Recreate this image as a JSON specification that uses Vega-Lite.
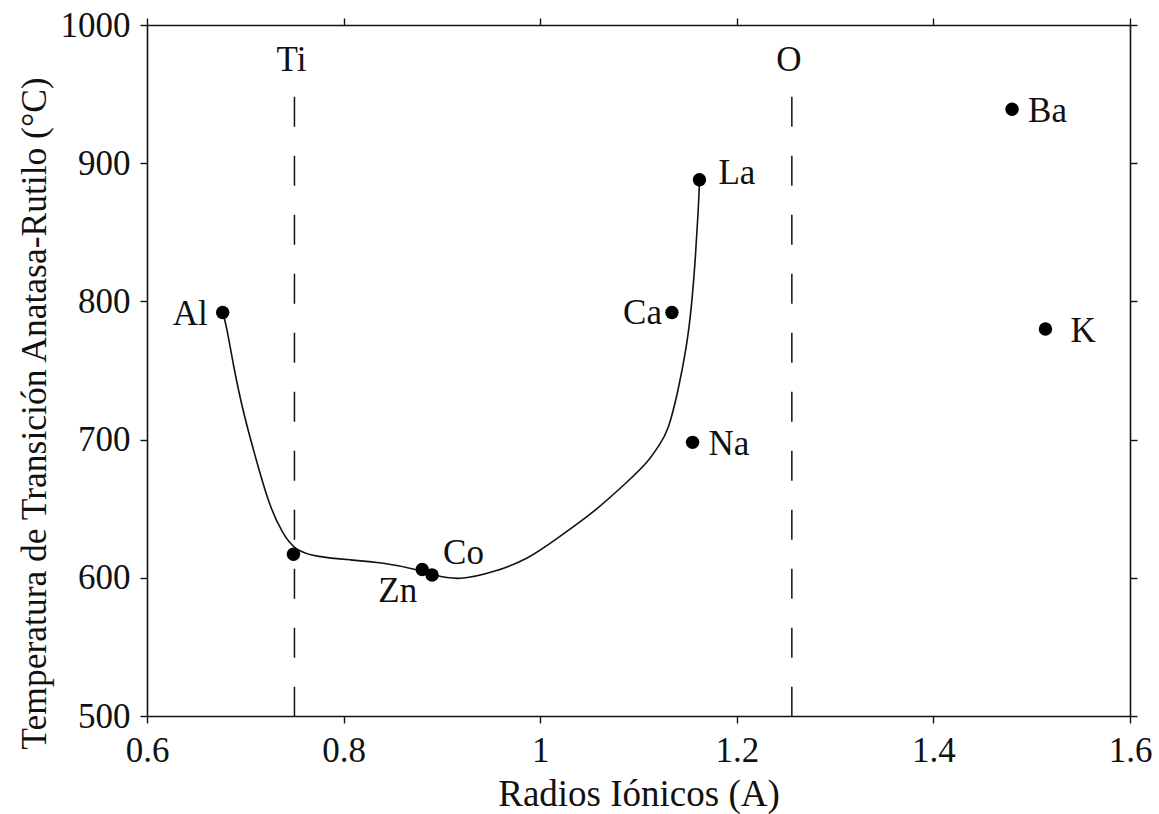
{
  "$schema": "https://vega.github.io/schema/vega-lite/v6.json",
  "width": 983,
  "height": 691,
  "autosize": {"type": "none"},
  "padding": {"left": 147, "top": 25, "right": 29, "bottom": 98},
  "background": "white",
  "config": {
    "font": "Liberation Serif",
    "view": {"stroke": null},
    "axis": {"grid": false, "domainColor": "#111", "tickColor": "#111", "labelColor": "#111", "titleColor": "#111", "labelFont": "Liberation Serif", "titleFont": "Liberation Serif", "labelFontSize": 35, "titleFontSize": 35.5, "titleFontWeight": "normal", "domainWidth": 1.6, "tickWidth": 1.4, "tickSize": 7}
  },
  "datasets": {
    "curve": [
      {"r": 0.677, "t": 792}, {"r": 0.681, "t": 782}, {"r": 0.688, "t": 753}, {"r": 0.698, "t": 719},
      {"r": 0.712, "t": 683}, {"r": 0.725, "t": 651}, {"r": 0.738, "t": 632}, {"r": 0.750, "t": 620},
      {"r": 0.773, "t": 615}, {"r": 0.807, "t": 613}, {"r": 0.840, "t": 611}, {"r": 0.875, "t": 606},
      {"r": 0.891, "t": 602}, {"r": 0.918, "t": 598}, {"r": 0.952, "t": 604}, {"r": 0.987, "t": 613},
      {"r": 1.020, "t": 630}, {"r": 1.054, "t": 647}, {"r": 1.088, "t": 669}, {"r": 1.109, "t": 683},
      {"r": 1.122, "t": 697}, {"r": 1.130, "t": 706}, {"r": 1.140, "t": 734}, {"r": 1.149, "t": 767},
      {"r": 1.154, "t": 796}, {"r": 1.158, "t": 832}, {"r": 1.161, "t": 868}, {"r": 1.162, "t": 886}
    ],
    "ions": [
      {"ion": "Al", "r": 0.677, "t": 792},
      {"ion": "Ti", "r": 0.749, "t": 617},
      {"ion": "Zn", "r": 0.880, "t": 606},
      {"ion": "Co", "r": 0.890, "t": 602},
      {"ion": "Ca", "r": 1.134, "t": 792},
      {"ion": "La", "r": 1.162, "t": 888},
      {"ion": "Na", "r": 1.155, "t": 698},
      {"ion": "Ba", "r": 1.480, "t": 939},
      {"ion": "K", "r": 1.514, "t": 780}
    ],
    "refs": [
      {"ion": "Ti", "r": 0.75, "top": 948, "bottom": 500},
      {"ion": "O", "r": 1.256, "top": 948, "bottom": 500}
    ]
  },
  "resolve": {"axis": {"x": "independent", "y": "independent"}},
  "layer": [
    {
      "data": {"name": "curve"},
      "mark": {"type": "line", "interpolate": "basis", "color": "#111", "strokeWidth": 1.6},
      "encoding": {
        "x": {"field": "r", "type": "quantitative", "scale": {"domain": [0.6, 1.6], "nice": false, "zero": false},
              "axis": {"orient": "bottom", "values": [0.6, 0.8, 1, 1.2, 1.4, 1.6], "format": "~g", "labelPadding": 10, "title": "Radios Iónicos (A)", "titlePadding": 8, "titleFontSize": 37, "labelFlush": false}},
        "y": {"field": "t", "type": "quantitative", "scale": {"domain": [500, 1000], "nice": false, "zero": false},
              "axis": {"orient": "left", "values": [500, 600, 700, 800, 900, 1000], "format": "d", "labelPadding": 10, "title": "Temperatura de Transición Anatasa-Rutilo (°C)", "titlePadding": 8, "titleY": 388, "labelFlush": false}}
      }
    },
    {
      "data": {"name": "ions"},
      "mark": {"type": "circle", "color": "#000", "opacity": 1, "size": 180},
      "encoding": {
        "x": {"field": "r", "type": "quantitative", "axis": {"orient": "top", "values": [0.6, 0.8, 1, 1.2, 1.4, 1.6], "labels": false, "title": null}},
        "y": {"field": "t", "type": "quantitative", "axis": {"orient": "right", "values": [500, 600, 700, 800, 900, 1000], "labels": false, "title": null}}
      }
    },
    {
      "data": {"name": "refs"},
      "mark": {"type": "rule", "color": "#111", "strokeWidth": 1.5, "strokeDash": [30, 29]},
      "encoding": {
        "x": {"field": "r", "type": "quantitative", "axis": null},
        "y": {"field": "top", "type": "quantitative", "axis": null},
        "y2": {"field": "bottom"}
      }
    },
    {
      "data": {"name": "refs"},
      "mark": {"type": "text", "fontSize": 35, "color": "#111", "baseline": "middle", "align": "center", "dx": -3},
      "encoding": {
        "x": {"field": "r", "type": "quantitative", "axis": null},
        "y": {"datum": 975, "type": "quantitative", "axis": null},
        "text": {"field": "ion"}
      }
    },
    {
      "data": {"name": "ions"},
      "transform": [{"filter": {"field": "ion", "oneOf": ["Ba", "Na"]}}],
      "mark": {"type": "text", "fontSize": 35, "color": "#111", "baseline": "middle", "align": "left", "dx": 16, "dy": 2},
      "encoding": {
        "x": {"field": "r", "type": "quantitative", "axis": null},
        "y": {"field": "t", "type": "quantitative", "axis": null},
        "text": {"field": "ion"}
      }
    },
    {
      "data": {"name": "ions"},
      "transform": [{"filter": {"field": "ion", "equal": "La"}}],
      "mark": {"type": "text", "fontSize": 35, "color": "#111", "baseline": "middle", "align": "left", "dx": 19, "dy": -7},
      "encoding": {
        "x": {"field": "r", "type": "quantitative", "axis": null},
        "y": {"field": "t", "type": "quantitative", "axis": null},
        "text": {"field": "ion"}
      }
    },
    {
      "data": {"name": "ions"},
      "transform": [{"filter": {"field": "ion", "equal": "K"}}],
      "mark": {"type": "text", "fontSize": 35, "color": "#111", "baseline": "middle", "align": "left", "dx": 25, "dy": 2},
      "encoding": {
        "x": {"field": "r", "type": "quantitative", "axis": null},
        "y": {"field": "t", "type": "quantitative", "axis": null},
        "text": {"field": "ion"}
      }
    },
    {
      "data": {"name": "ions"},
      "transform": [{"filter": {"field": "ion", "equal": "Al"}}],
      "mark": {"type": "text", "fontSize": 35, "color": "#111", "baseline": "middle", "align": "right", "dx": -15, "dy": 2},
      "encoding": {
        "x": {"field": "r", "type": "quantitative", "axis": null},
        "y": {"field": "t", "type": "quantitative", "axis": null},
        "text": {"field": "ion"}
      }
    },
    {
      "data": {"name": "ions"},
      "transform": [{"filter": {"field": "ion", "equal": "Ca"}}],
      "mark": {"type": "text", "fontSize": 35, "color": "#111", "baseline": "middle", "align": "right", "dx": -10, "dy": 1},
      "encoding": {
        "x": {"field": "r", "type": "quantitative", "axis": null},
        "y": {"field": "t", "type": "quantitative", "axis": null},
        "text": {"field": "ion"}
      }
    },
    {
      "data": {"name": "ions"},
      "transform": [{"filter": {"field": "ion", "equal": "Zn"}}],
      "mark": {"type": "text", "fontSize": 35, "color": "#111", "baseline": "middle", "align": "right", "dx": -5, "dy": 21},
      "encoding": {
        "x": {"field": "r", "type": "quantitative", "axis": null},
        "y": {"field": "t", "type": "quantitative", "axis": null},
        "text": {"field": "ion"}
      }
    },
    {
      "data": {"name": "ions"},
      "transform": [{"filter": {"field": "ion", "equal": "Co"}}],
      "mark": {"type": "text", "fontSize": 35, "color": "#111", "baseline": "middle", "align": "left", "dx": 11, "dy": -22},
      "encoding": {
        "x": {"field": "r", "type": "quantitative", "axis": null},
        "y": {"field": "t", "type": "quantitative", "axis": null},
        "text": {"field": "ion"}
      }
    }
  ]
}
